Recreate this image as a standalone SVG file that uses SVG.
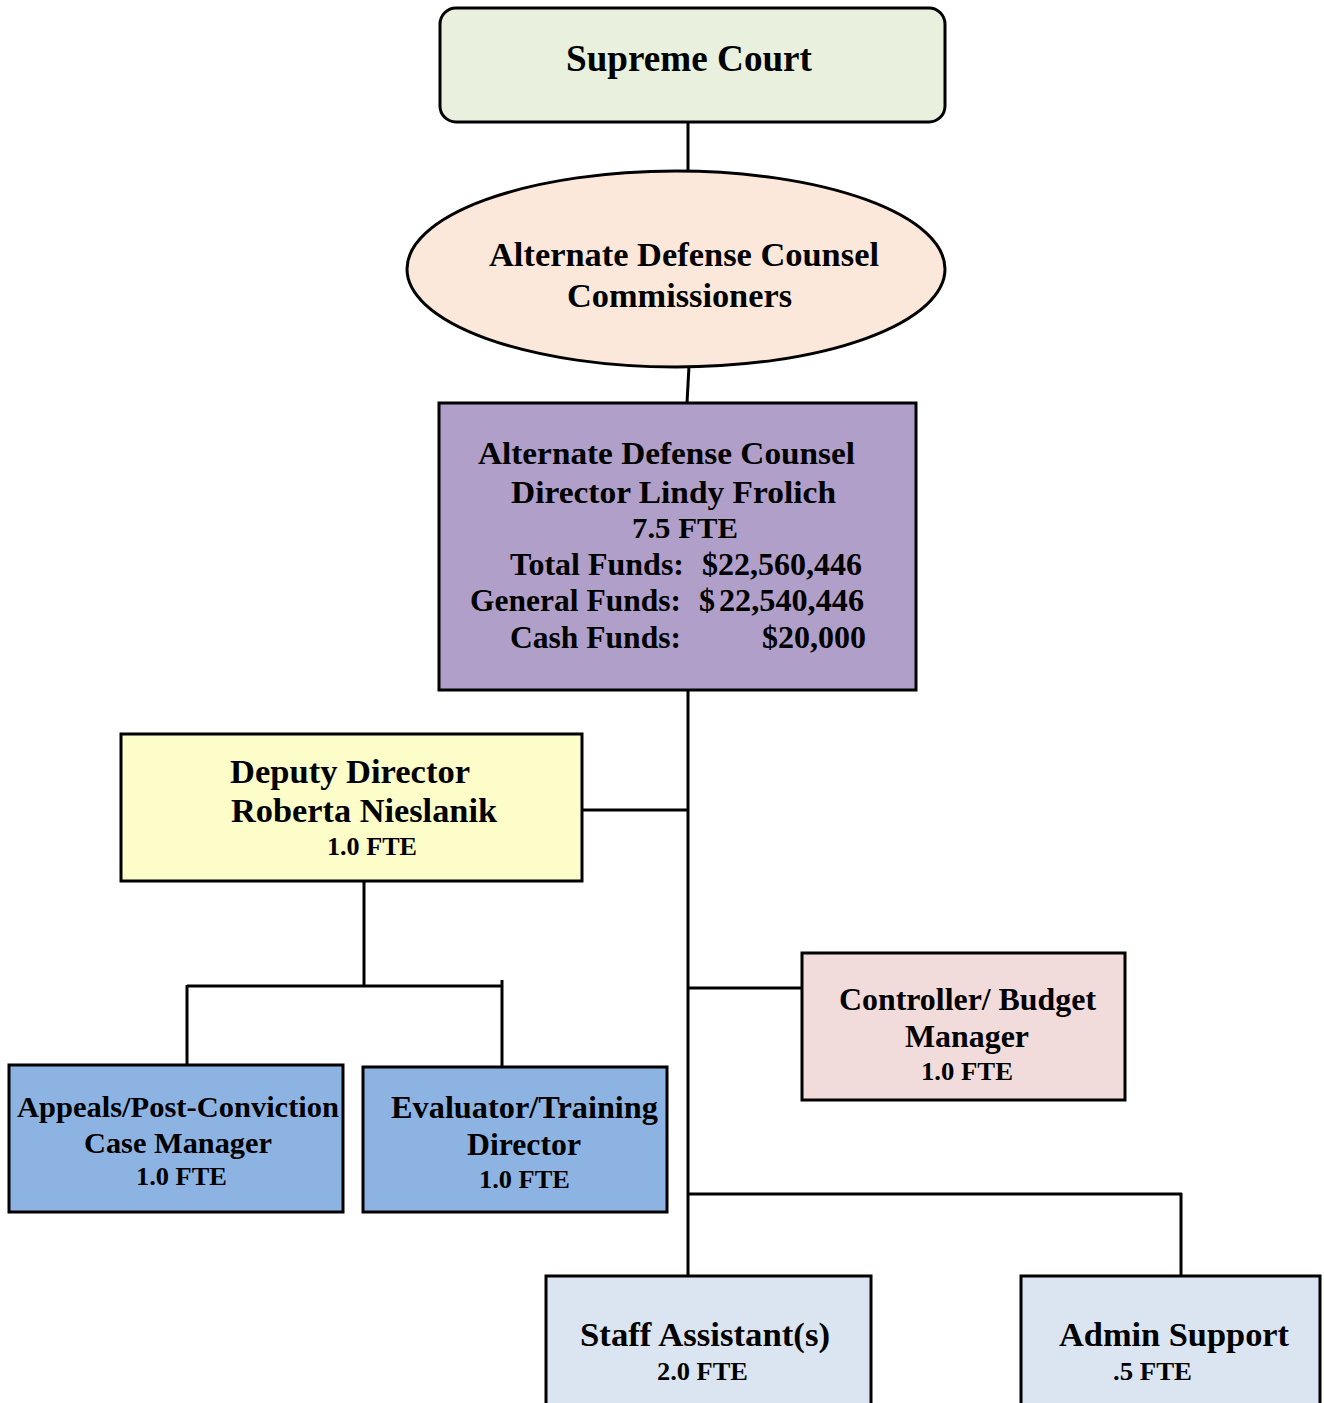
<svg xmlns="http://www.w3.org/2000/svg" width="1324" height="1403" viewBox="0 0 1324 1403">
<style>
.box{stroke:#000;stroke-width:3}
.l{font-family:"Liberation Serif","Times New Roman",serif;font-weight:bold;fill:#000}
.conn line{stroke:#000;stroke-width:3;fill:none}
</style>
<rect width="1324" height="1403" fill="#fff"/>
<g class="conn">
<line x1="688" y1="122" x2="688" y2="172"/>
<line x1="689" y1="366" x2="687" y2="403"/>
<line x1="688" y1="690" x2="688" y2="1276"/>
<line x1="582" y1="810" x2="688" y2="810"/>
<line x1="364" y1="881" x2="364" y2="986"/>
<line x1="187" y1="986" x2="502" y2="986"/>
<line x1="187" y1="985" x2="187" y2="1065"/>
<line x1="502" y1="980" x2="502" y2="1067"/>
<line x1="688" y1="988" x2="802" y2="988"/>
<line x1="688" y1="1194" x2="1182" y2="1194"/>
<line x1="1181" y1="1193" x2="1181" y2="1276"/>
</g>
<g id="supreme-court">
<rect class="box" x="440" y="8" width="505" height="114" rx="16" fill="#e9f0dd"/>
<text class="l" x="566" y="71" font-size="37" textLength="246" lengthAdjust="spacingAndGlyphs">Supreme Court</text>
</g>
<g id="commissioners">
<ellipse class="box" cx="676" cy="269" rx="269" ry="98" fill="#fce8da"/>
<text class="l" x="489" y="266" font-size="33" textLength="390" lengthAdjust="spacingAndGlyphs">Alternate Defense Counsel</text>
<text class="l" x="567" y="307" font-size="33" textLength="225" lengthAdjust="spacingAndGlyphs">Commissioners</text>
</g>
<g id="director">
<rect class="box" x="439" y="403" width="477" height="287" fill="#b09fc8"/>
<text class="l" x="478" y="464" font-size="32" textLength="377" lengthAdjust="spacingAndGlyphs">Alternate Defense Counsel</text>
<text class="l" x="511" y="503" font-size="32" textLength="325" lengthAdjust="spacingAndGlyphs">Director Lindy Frolich</text>
<text class="l" x="632" y="538" font-size="30" textLength="106" lengthAdjust="spacingAndGlyphs">7.5 FTE</text>
<text class="l" x="510" y="575" font-size="32" textLength="174" lengthAdjust="spacingAndGlyphs">Total Funds:</text>
<text class="l" x="702" y="575" font-size="32" textLength="160" lengthAdjust="spacingAndGlyphs">$22,560,446</text>
<text class="l" x="470" y="611" font-size="32" textLength="211" lengthAdjust="spacingAndGlyphs">General Funds:</text>
<text class="l" x="699" y="611" font-size="32">$</text>
<text class="l" x="719" y="611" font-size="32" textLength="145" lengthAdjust="spacingAndGlyphs">22,540,446</text>
<text class="l" x="510" y="648" font-size="32" textLength="171" lengthAdjust="spacingAndGlyphs">Cash Funds:</text>
<text class="l" x="762" y="648" font-size="32" textLength="104" lengthAdjust="spacingAndGlyphs">$20,000</text>
</g>
<g id="deputy-director">
<rect class="box" x="121" y="734" width="461" height="147" fill="#fdfdc9"/>
<text class="l" x="230" y="783" font-size="33" textLength="240" lengthAdjust="spacingAndGlyphs">Deputy Director</text>
<text class="l" x="231" y="822" font-size="33" textLength="266" lengthAdjust="spacingAndGlyphs">Roberta Nieslanik</text>
<text class="l" x="327" y="855" font-size="25" textLength="90" lengthAdjust="spacingAndGlyphs">1.0 FTE</text>
</g>
<g id="appeals">
<rect class="box" x="9" y="1065" width="334" height="147" fill="#8db3e2"/>
<text class="l" x="17" y="1117" font-size="30" textLength="322" lengthAdjust="spacingAndGlyphs">Appeals/Post-Conviction</text>
<text class="l" x="84" y="1153" font-size="30" textLength="188" lengthAdjust="spacingAndGlyphs">Case Manager</text>
<text class="l" x="136" y="1185" font-size="26" textLength="91" lengthAdjust="spacingAndGlyphs">1.0 FTE</text>
</g>
<g id="evaluator">
<rect class="box" x="363" y="1067" width="304" height="145" fill="#8db3e2"/>
<text class="l" x="391" y="1118" font-size="31" textLength="267" lengthAdjust="spacingAndGlyphs">Evaluator/Training</text>
<text class="l" x="467" y="1155" font-size="31" textLength="114" lengthAdjust="spacingAndGlyphs">Director</text>
<text class="l" x="479" y="1188" font-size="26" textLength="91" lengthAdjust="spacingAndGlyphs">1.0 FTE</text>
</g>
<g id="controller">
<rect class="box" x="802" y="953" width="323" height="147" fill="#f2dcdb"/>
<text class="l" x="839" y="1010" font-size="31" textLength="257" lengthAdjust="spacingAndGlyphs">Controller/ Budget</text>
<text class="l" x="905" y="1047" font-size="31" textLength="124" lengthAdjust="spacingAndGlyphs">Manager</text>
<text class="l" x="921" y="1080" font-size="26" textLength="92" lengthAdjust="spacingAndGlyphs">1.0 FTE</text>
</g>
<g id="staff-assistant">
<rect class="box" x="546" y="1276" width="325" height="140" fill="#dbe5f1"/>
<text class="l" x="580" y="1346" font-size="33" textLength="250" lengthAdjust="spacingAndGlyphs">Staff Assistant(s)</text>
<text class="l" x="657" y="1380" font-size="26" textLength="91" lengthAdjust="spacingAndGlyphs">2.0 FTE</text>
</g>
<g id="admin-support">
<rect class="box" x="1021" y="1276" width="299" height="140" fill="#dbe5f1"/>
<text class="l" x="1059" y="1346" font-size="33" textLength="230" lengthAdjust="spacingAndGlyphs">Admin Support</text>
<text class="l" x="1113" y="1380" font-size="26" textLength="79" lengthAdjust="spacingAndGlyphs">.5 FTE</text>
</g>
</svg>
